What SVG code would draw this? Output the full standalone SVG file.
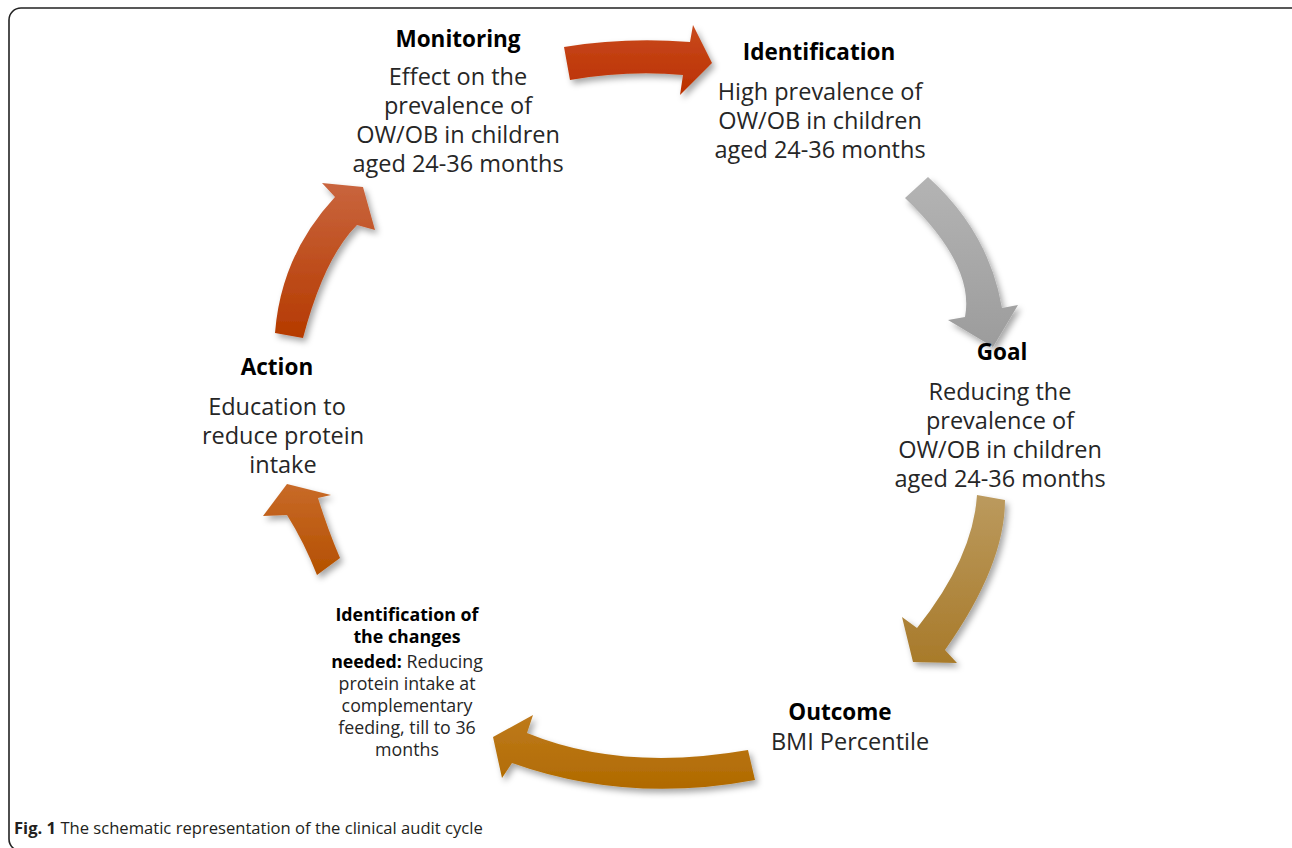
<svg xmlns="http://www.w3.org/2000/svg" width="1292" height="848" viewBox="0 0 1292 848">
<style>
.t{font-family:"Open Sans","Liberation Sans",sans-serif;font-size:23.5px;fill:#262626;text-anchor:middle}
.b{font-weight:bold;fill:#000;font-size:22.5px}
.s{font-size:17.8px}
.cap{font-family:"Open Sans","Liberation Sans",sans-serif;font-size:16.6px;fill:#231f20}
</style>
<defs>
<filter id="sh" x="-30%" y="-30%" width="160%" height="160%">
<feDropShadow dx="3" dy="4" stdDeviation="3" flood-color="#000" flood-opacity="0.35"/>
</filter>
<linearGradient id="g1" x1="0" y1="0" x2="0" y2="1"><stop offset="0" stop-color="#c84a1e"/><stop offset="1" stop-color="#bb3000"/></linearGradient>
<linearGradient id="g2" x1="0" y1="0" x2="0" y2="1"><stop offset="0" stop-color="#b4b4b4"/><stop offset="1" stop-color="#9c9c9c"/></linearGradient>
<linearGradient id="g3" x1="0" y1="0" x2="0" y2="1"><stop offset="0" stop-color="#bb9a5e"/><stop offset="1" stop-color="#a87a2a"/></linearGradient>
<linearGradient id="g4" x1="0" y1="0" x2="0" y2="1"><stop offset="0" stop-color="#be7a1c"/><stop offset="1" stop-color="#b06a00"/></linearGradient>
<linearGradient id="g5" x1="0" y1="0" x2="0" y2="1"><stop offset="0" stop-color="#c86a28"/><stop offset="1" stop-color="#b45000"/></linearGradient>
<linearGradient id="g6" x1="0" y1="0" x2="0" y2="1"><stop offset="0" stop-color="#c9653e"/><stop offset="1" stop-color="#b53a00"/></linearGradient>
</defs>
<rect x="9" y="8" width="1300" height="843" rx="12" fill="#fff" stroke="#222" stroke-width="1.6"/>
<g id="connectors" filter="url(#sh)">
<path d="M564,47 Q625,37 690,42 L693,25 L712,63 L680,95 L683,75 Q628,70 570,80 Z" fill="url(#g1)"/>
<path d="M905,198 Q975,265 965,317 L948,320 L993,347 L1018,305 L1002,308 Q989,232 928,177 Z" fill="url(#g2)"/>
<path d="M977,495 Q973,558 917,628 L902,617 L913,662 L957,663 L945,650 Q1005,565 1005,500 Z" fill="url(#g3)"/>
<path d="M748,750 Q622,772 527,733 L533,715 L493,737 L502,778 L512,763 Q627,804 755,780 Z" fill="url(#g4)"/>
<path d="M317,575 Q304,542 287,515 L263,516 L287,484 L331,495 L318,498 Q328,530 340,558 Z" fill="url(#g5)"/>
<path d="M275,333 Q281,255 335,197 L322,183 L363,187 L375,230 L357,225 Q324,258 303,338 Z" fill="url(#g6)"/>
</g>
<g id="monitoring">
<text class="t b" x="458" y="47">Monitoring</text>
<text class="t" x="458" y="85">Effect on the</text>
<text class="t" x="458" y="114">prevalence of</text>
<text class="t" x="458" y="143">OW/OB in children</text>
<text class="t" x="458" y="172">aged 24-36 months</text>
</g>
<g id="identification">
<text class="t b" x="819" y="60">Identification</text>
<text class="t" x="820" y="100">High prevalence of</text>
<text class="t" x="820" y="129">OW/OB in children</text>
<text class="t" x="820" y="158">aged 24-36 months</text>
</g>
<g id="goal">
<text class="t b" x="1002" y="360">Goal</text>
<text class="t" x="1000" y="400">Reducing the</text>
<text class="t" x="1000" y="429">prevalence of</text>
<text class="t" x="1000" y="458">OW/OB in children</text>
<text class="t" x="1000" y="487">aged 24-36 months</text>
</g>
<g id="outcome">
<text class="t b" x="840" y="720">Outcome</text>
<text class="t" x="850" y="750">BMI Percentile</text>
</g>
<g id="changes">
<text class="t s b" x="407" y="621">Identification of</text>
<text class="t s b" x="407" y="643">the changes</text>
<text class="t s" x="407" y="668"><tspan font-weight="bold" fill="#000">needed:</tspan> Reducing</text>
<text class="t s" x="407" y="690">protein intake at</text>
<text class="t s" x="407" y="712">complementary</text>
<text class="t s" x="407" y="734">feeding, till to 36</text>
<text class="t s" x="407" y="756">months</text>
</g>
<g id="action">
<text class="t b" x="277" y="375">Action</text>
<text class="t" x="277" y="415">Education to</text>
<text class="t" x="283" y="444">reduce protein</text>
<text class="t" x="283" y="473">intake</text>
</g>
<text class="cap" x="14" y="834"><tspan font-weight="bold">Fig. 1</tspan> The schematic representation of the clinical audit cycle</text>
</svg>
